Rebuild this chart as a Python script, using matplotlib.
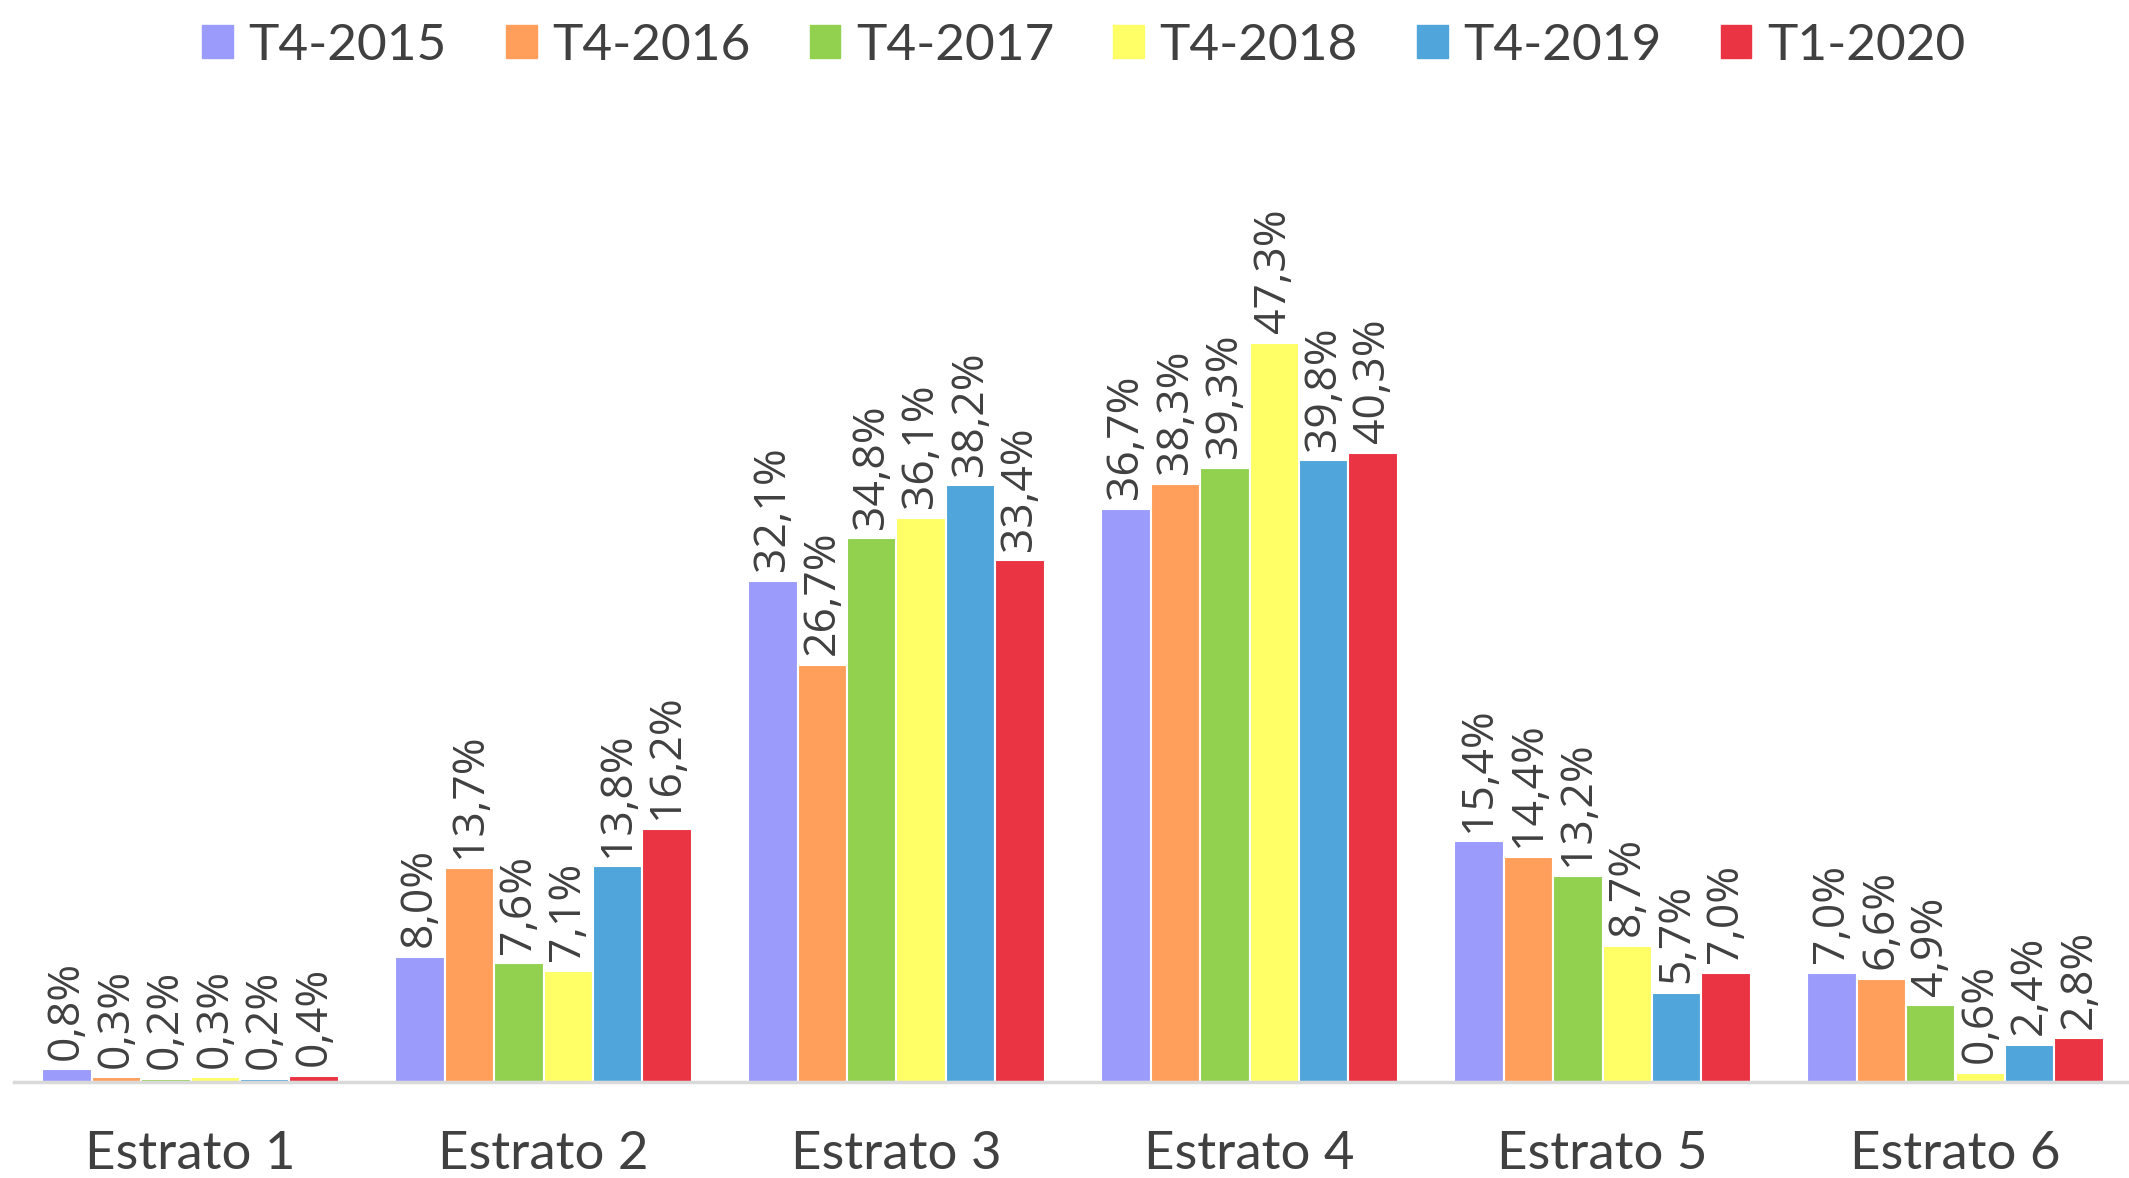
import matplotlib
matplotlib.use("Agg")
import matplotlib.pyplot as plt
import matplotlib.patches as mpatches
import numpy as np

# Data: share per estrato for each quarter
categories = ["Estrato 1", "Estrato 2", "Estrato 3", "Estrato 4", "Estrato 5", "Estrato 6"]
series_names = ["T4-2015", "T4-2016", "T4-2017", "T4-2018", "T4-2019", "T1-2020"]
t4_2015 = [0.8, 8.0, 32.1, 36.7, 15.4, 7.0]
t4_2016 = [0.3, 13.7, 26.7, 38.3, 14.4, 6.6]
t4_2017 = [0.2, 7.6, 34.8, 39.3, 13.2, 4.9]
t4_2018 = [0.3, 7.1, 36.1, 47.3, 8.7, 0.6]
t4_2019 = [0.2, 13.8, 38.2, 39.8, 5.7, 2.4]
t1_2020 = [0.4, 16.2, 33.4, 40.3, 7.0, 2.8]
series = [t4_2015, t4_2016, t4_2017, t4_2018, t4_2019, t1_2020]
colors = ["#9B9BFC", "#FF9F5B", "#92D050", "#FFFF66", "#50A6DB", "#EB3443"]

text_col = "#404040"

fig = plt.figure(figsize=(21.29, 11.78), dpi=100)
ax = fig.add_axes([14 / 2129, 0.0815, 2118 / 2129, 0.8685])

x = np.arange(len(categories))
n = len(series)
w = 0.14
for i, (vals, c) in enumerate(zip(series, colors)):
    pos = x + (i - (n - 1) / 2) * w
    ax.bar(pos, vals, width=w, color=c, edgecolor="white", linewidth=1.5, zorder=2)
    for p, v in zip(pos, vals):
        lab = f"{v:.1f}".replace(".", ",") + "%"
        ax.annotate(lab, (p, v), xytext=(0, 7), textcoords="offset points",
                    rotation=90, ha="center", va="bottom",
                    fontsize=32, family="Open Sans", color=text_col)

ax.set_xlim(-0.5, 5.5)
ax.set_ylim(0, 65.5)
ax.set_yticks([])
ax.set_xticks(x)
ax.set_xticklabels(categories, fontsize=38, family="Lato", color=text_col)
ax.tick_params(axis="x", length=0, pad=35)
for s in ["top", "right", "left"]:
    ax.spines[s].set_visible(False)
ax.spines["bottom"].set_color("#D9D9D9")
ax.spines["bottom"].set_linewidth(2.5)
ax.spines["bottom"].set_zorder(3)

handles = [mpatches.Patch(color=c, label=s) for s, c in zip(series_names, colors)]
fig.legend(handles=handles, loc="upper center", bbox_to_anchor=(0.509, 1.02),
           ncol=6, frameon=False, handlelength=0.6, handleheight=0.6,
           handletextpad=0.3, columnspacing=1.15,
           prop={"family": "Lato", "size": 37}, labelcolor=text_col)

fig.savefig("out.png", dpi=100)
